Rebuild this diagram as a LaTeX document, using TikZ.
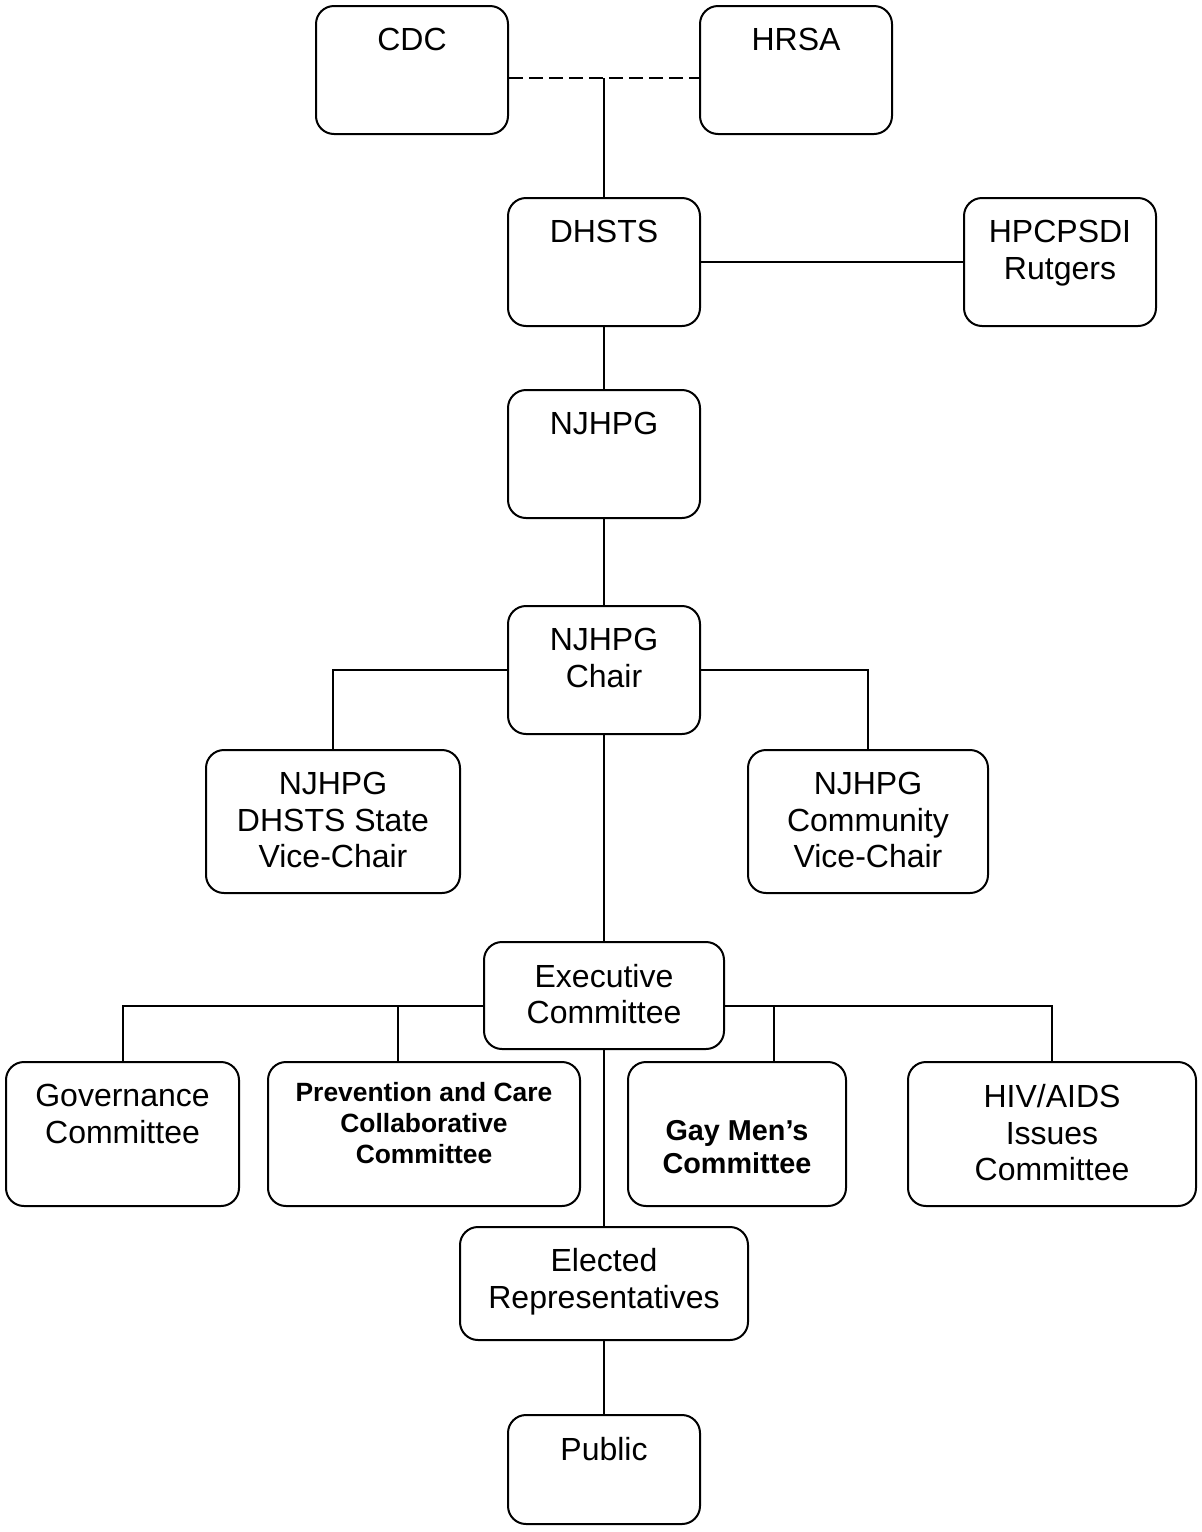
\documentclass[tikz,border=0pt]{standalone}
\usepackage{fontspec}
\setmainfont{Liberation Sans}
\usetikzlibrary{positioning, % placement relatif
                calc}        % calculs de coordonnées
\tikzset{
  boite/.style={draw,line width=1pt,rounded corners=9pt,inner sep=0pt},
  texte/.style={anchor=north,align=center,inner sep=0pt,yshift=-11pt,
                font=\fontsize{16}{18.4}\selectfont},
  gras/.style={texte,font=\bfseries\fontsize{13.2}{15.5}\selectfont}
}

\begin{document}
\begin{tikzpicture}[x=0.5pt,y=-0.5pt,line width=1pt]
\useasboundingbox (0,0) rectangle (1201,1532);
\node[boite,minimum width=96pt,minimum height=64pt,label={[texte]north:CDC}] (cdc) at (412,70) {};
\node[boite,minimum width=96pt,minimum height=64pt,label={[texte]north:HRSA}] (hrsa) at (796,70) {};
\node[boite,minimum width=96pt,minimum height=64pt,label={[texte]north:DHSTS}] (dhsts) at (604,262) {};
\node[boite,minimum width=96pt,minimum height=64pt,label={[texte]north:HPCPSDI\\Rutgers}] (hpc) at (1060,262) {};
\node[boite,minimum width=96pt,minimum height=64pt,label={[texte]north:NJHPG}] (njhpg) at (604,454) {};
\node[boite,minimum width=96pt,minimum height=64pt,label={[texte]north:NJHPG\\Chair}] (chair) at (604,670) {};
\node[boite,minimum width=127pt,minimum height=71.5pt,label={[texte]north:NJHPG\\DHSTS State\\Vice-Chair}] (vcstate) at (333,821.5) {};
\node[boite,minimum width=120pt,minimum height=71.5pt,label={[texte]north:NJHPG\\Community\\Vice-Chair}] (vccomm) at (868,821.5) {};
\node[boite,minimum width=120pt,minimum height=53.5pt,label={[texte,font=\fontsize{16}{18}\selectfont]north:Executive\\Committee}] (exec) at (604,995.5) {};
\node[boite,minimum width=116.5pt,minimum height=72pt,label={[texte]north:Governance\\Committee}] (gov) at (122.5,1134) {};
\node[boite,minimum width=156pt,minimum height=72pt,label={[gras,yshift=0.75pt]north:Prevention and Care\\Collaborative\\Committee}] (pcc) at (424,1134) {};
\node[boite,minimum width=109pt,minimum height=72pt,label={[gras,font=\bfseries\fontsize{14.4}{16.5}\selectfont,yshift=-18pt]north:Gay Men’s\\Committee}] (gay) at (737,1134) {};
\node[boite,minimum width=144pt,minimum height=72pt,label={[texte]north:HIV/AIDS\\Issues\\Committee}] (hiv) at (1052,1134) {};
\node[boite,minimum width=144pt,minimum height=56.5pt,label={[texte,yshift=0.5pt]north:Elected\\Representatives}] (elect) at (604,1283.5) {};
\node[boite,minimum width=96pt,minimum height=54.5pt,label={[texte]north:Public}] (public) at (604,1469.5) {};
\coordinate (lien) at (604,78);
\draw[dash pattern=on 7pt off 3pt] (cdc.east |- lien) -- (hrsa.west |- lien);
\draw (lien) -- (dhsts.north);
\draw (dhsts) -- (hpc);
\draw (dhsts) -- (njhpg);
\draw (njhpg) -- (chair);
\draw (chair.west) -| (vcstate.north);
\draw (chair.east) -| (vccomm.north);
\draw (chair) -- (exec);
\coordinate (bus) at (604,1006);
\draw (bus -| exec.west) -| (gov.north);
\draw (bus -| exec.east) -| (hiv.north);
\draw ([xshift=-13pt]pcc.north) -- ([xshift=-13pt]pcc.north |- bus);
\draw ([xshift=18.5pt]gay.north) -- ([xshift=18.5pt]gay.north |- bus);
\draw (exec) -- (elect);
\draw (elect) -- (public);
\end{tikzpicture}
\end{document}
